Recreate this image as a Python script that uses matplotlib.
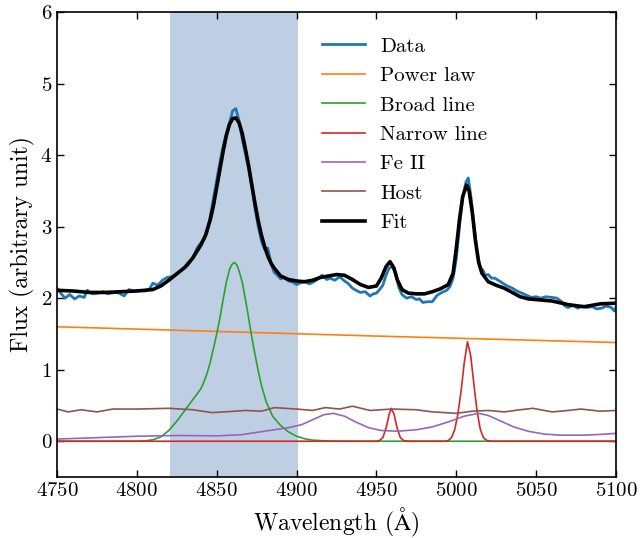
import matplotlib
matplotlib.use('Agg')
import matplotlib.pyplot as plt

plt.rcParams['font.family'] = 'serif'
plt.rcParams['font.serif'] = ['cmr10']
plt.rcParams['mathtext.fontset'] = 'cm'
plt.rcParams['axes.formatter.use_mathtext'] = True

# observed spectrum
data_wave = [4750, 4752, 4755, 4758, 4761, 4764, 4767, 4769, 4772, 4776, 4779, 4782, 4786, 4789,
             4792, 4795, 4798, 4801, 4805, 4808, 4810, 4813, 4816, 4819, 4822, 4825, 4828, 4832,
             4835, 4838, 4840, 4842, 4844, 4846, 4848, 4850, 4852, 4854, 4856, 4858, 4860, 4862,
             4864, 4866, 4868, 4870, 4872, 4874, 4876, 4878, 4880, 4882, 4884, 4886, 4888, 4890,
             4892, 4895, 4898, 4900, 4902, 4905, 4908, 4910, 4913, 4916, 4919, 4921, 4924, 4927,
             4930, 4932, 4935, 4938, 4940, 4943, 4946, 4948, 4950, 4952, 4954, 4956, 4958, 4960,
             4962, 4964, 4966, 4969, 4972, 4975, 4977, 4979, 4982, 4985, 4988, 4991, 4994, 4996,
             4998, 5000, 5002, 5004, 5006, 5007.5, 5009, 5011, 5013, 5015, 5017, 5018, 5020, 5022,
             5024, 5027, 5029, 5032, 5035, 5038, 5041, 5044, 5047, 5050, 5053, 5056, 5060, 5063,
             5066, 5068, 5070, 5073, 5076, 5079, 5082, 5085, 5088, 5091, 5094, 5097, 5099, 5100]
data_flux = [2.14, 2.08, 2.00, 2.05, 1.99, 2.03, 2.01, 2.11, 2.06, 2.07, 2.09, 2.06, 2.08, 2.07,
             2.03, 2.12, 2.10, 2.11, 2.10, 2.13, 2.21, 2.18, 2.25, 2.29, 2.30, 2.34, 2.39, 2.46,
             2.57, 2.71, 2.77, 2.82, 2.92, 3.15, 3.40, 3.65, 3.90, 4.12, 4.30, 4.45, 4.62, 4.65,
             4.48, 4.22, 4.02, 3.80, 3.55, 3.25, 3.00, 2.80, 2.68, 2.70, 2.48, 2.36, 2.32, 2.27,
             2.29, 2.24, 2.22, 2.19, 2.21, 2.23, 2.20, 2.22, 2.26, 2.32, 2.26, 2.28, 2.25, 2.30,
             2.24, 2.21, 2.14, 2.10, 2.08, 2.09, 2.03, 2.06, 2.07, 2.12, 2.18, 2.32, 2.42, 2.44,
             2.35, 2.15, 2.05, 2.00, 2.02, 1.98, 1.99, 1.94, 1.95, 1.95, 2.04, 2.08, 2.11, 2.16,
             2.28, 2.55, 3.00, 3.40, 3.62, 3.68, 3.45, 3.05, 2.65, 2.43, 2.38, 2.32, 2.33, 2.28,
             2.28, 2.24, 2.21, 2.17, 2.14, 2.10, 2.07, 2.04, 2.01, 2.02, 2.00, 2.02, 2.01, 2.00,
             1.95, 1.89, 1.87, 1.90, 1.86, 1.89, 1.87, 1.88, 1.85, 1.86, 1.89, 1.87, 1.82, 1.88]

# model components
pl_wave = [4750, 4850, 4950, 5050, 5100]
pl_flux = [1.60, 1.535, 1.47, 1.41, 1.38]

broad_wave = [4750, 4800, 4805, 4810, 4815, 4820, 4825, 4830, 4835, 4840, 4842, 4844, 4846, 4848,
              4850, 4852, 4854, 4856, 4858, 4859.5, 4861, 4862.5, 4864, 4866, 4868, 4870, 4872,
              4874, 4876, 4878, 4881, 4885, 4890, 4895, 4900, 4905, 4910, 4920, 4930, 5100]
broad_flux = [0, 0, 0.005, 0.02, 0.06, 0.15, 0.28, 0.43, 0.58, 0.73, 0.83, 0.95, 1.11, 1.30,
              1.50, 1.72, 1.98, 2.22, 2.40, 2.47, 2.50, 2.47, 2.38, 2.22, 1.98, 1.72, 1.45,
              1.21, 0.98, 0.78, 0.55, 0.35, 0.22, 0.13, 0.07, 0.035, 0.015, 0.003, 0, 0]

narrow_wave = [4750, 4950, 4952, 4954, 4956, 4958, 4959.3, 4961, 4963, 4965, 4967, 4970, 4993,
               4995, 4997, 4999, 5001, 5003, 5005, 5007, 5009, 5011, 5013, 5015, 5017, 5019, 5022,
               5100]
narrow_flux = [0, 0, 0.01, 0.05, 0.18, 0.38, 0.46, 0.38, 0.18, 0.05, 0.01, 0, 0,
               0.01, 0.05, 0.16, 0.38, 0.70, 1.10, 1.39, 1.20, 0.80, 0.42, 0.17, 0.05, 0.012, 0,
               0]

fe_wave = [4750, 4775, 4800, 4825, 4850, 4865, 4880, 4895, 4903, 4910, 4917, 4923, 4930, 4937,
           4945, 4953, 4963, 4975, 4985, 4995, 5005, 5014, 5020, 5028, 5036, 5045, 5055, 5065,
           5080, 5090, 5100]
fe_flux = [0.03, 0.05, 0.07, 0.08, 0.075, 0.09, 0.14, 0.19, 0.23, 0.30, 0.37, 0.39, 0.35, 0.27,
           0.19, 0.15, 0.14, 0.16, 0.20, 0.27, 0.35, 0.39, 0.36, 0.28, 0.20, 0.14, 0.10, 0.085,
           0.085, 0.095, 0.11]

host_wave = [4750, 4757, 4765, 4775, 4785, 4800, 4820, 4835, 4847, 4855, 4868, 4878, 4886, 4893,
             4900, 4910, 4918, 4927, 4935, 4946, 4960, 4975, 4985, 5000, 5010, 5020, 5030, 5040,
             5048, 5060, 5070, 5078, 5090, 5100]
host_flux = [0.45, 0.41, 0.44, 0.41, 0.45, 0.45, 0.46, 0.44, 0.40, 0.41, 0.43, 0.42, 0.47, 0.46,
             0.45, 0.43, 0.47, 0.45, 0.49, 0.43, 0.45, 0.44, 0.41, 0.39, 0.42, 0.43, 0.41, 0.44,
             0.46, 0.41, 0.43, 0.45, 0.42, 0.43]

fit_wave = [4750, 4760, 4770, 4780, 4790, 4800, 4810, 4815, 4820, 4825, 4830, 4835, 4840, 4843,
            4846, 4848, 4850, 4852, 4854, 4856, 4858, 4860, 4862, 4864, 4866, 4868, 4870, 4872,
            4874, 4876, 4878, 4880, 4882, 4884, 4886, 4890, 4895, 4900, 4905, 4910, 4915, 4920,
            4925, 4930, 4935, 4940, 4945, 4950, 4953, 4956, 4958.5, 4961, 4963, 4966, 4970, 4975,
            4980, 4985, 4990, 4995, 4998, 5000, 5002, 5004, 5006.5, 5008, 5010, 5012, 5014, 5016,
            5020, 5025, 5030, 5035, 5040, 5045, 5050, 5060, 5070, 5080, 5090, 5100]
fit_flux = [2.11, 2.10, 2.08, 2.08, 2.09, 2.10, 2.12, 2.17, 2.25, 2.34, 2.43, 2.56, 2.74, 2.88,
            3.10, 3.30, 3.55, 3.80, 4.05, 4.27, 4.43, 4.51, 4.52, 4.45, 4.30, 4.08, 3.85, 3.58,
            3.32, 3.08, 2.88, 2.72, 2.59, 2.49, 2.42, 2.31, 2.26, 2.24, 2.23, 2.25, 2.29, 2.31,
            2.33, 2.32, 2.26, 2.19, 2.15, 2.17, 2.28, 2.44, 2.51, 2.42, 2.26, 2.12, 2.07, 2.06,
            2.06, 2.09, 2.13, 2.19, 2.35, 2.70, 3.10, 3.42, 3.58, 3.50, 3.20, 2.80, 2.50, 2.35,
            2.23, 2.18, 2.14, 2.08, 2.02, 1.99, 1.98, 1.96, 1.91, 1.88, 1.92, 1.93]

window = (4821, 4901)


def main():
    fig = plt.figure(figsize=(6.42, 5.38), dpi=100)
    ax = fig.add_axes([57 / 642, 1 - 477 / 538, 559 / 642, 465 / 538])
    ax.axvspan(window[0], window[1], color='#bfcfe3', lw=0, zorder=0)
    ax.plot(data_wave, data_flux, color='C0', lw=2, label='Data')
    ax.plot(pl_wave, pl_flux, color='C1', lw=1.2, label='Power law')
    ax.plot(broad_wave, broad_flux, color='C2', lw=1.2, label='Broad line')
    ax.plot(narrow_wave, narrow_flux, color='C3', lw=1.2, label='Narrow line')
    ax.plot(fe_wave, fe_flux, color='C4', lw=1.2, label='Fe II')
    ax.plot(host_wave, host_flux, color='C5', lw=1.2, label='Host')
    ax.plot(fit_wave, fit_flux, color='black', lw=2.6, label='Fit')

    ax.set_xlim(4750, 5100)
    ax.set_ylim(-0.5, 6)
    ax.set_xlabel(r'Wavelength ($\mathrm{\AA}$)', fontsize=17)
    ax.set_ylabel('Flux (arbitrary unit)', fontsize=17)
    ax.tick_params(direction='in', top=True, right=True, labelsize=15, length=5, width=1)
    for sp in ax.spines.values():
        sp.set_linewidth(1.2)

    ax.legend(loc='upper left', bbox_to_anchor=(0.474, 0.946), frameon=False, fontsize=15,
              borderpad=0, borderaxespad=0, handlelength=2.05, handletextpad=0.75,
              labelspacing=0.52)
    fig.savefig('out.png', dpi=100)


if __name__ == "__main__":
    main()
